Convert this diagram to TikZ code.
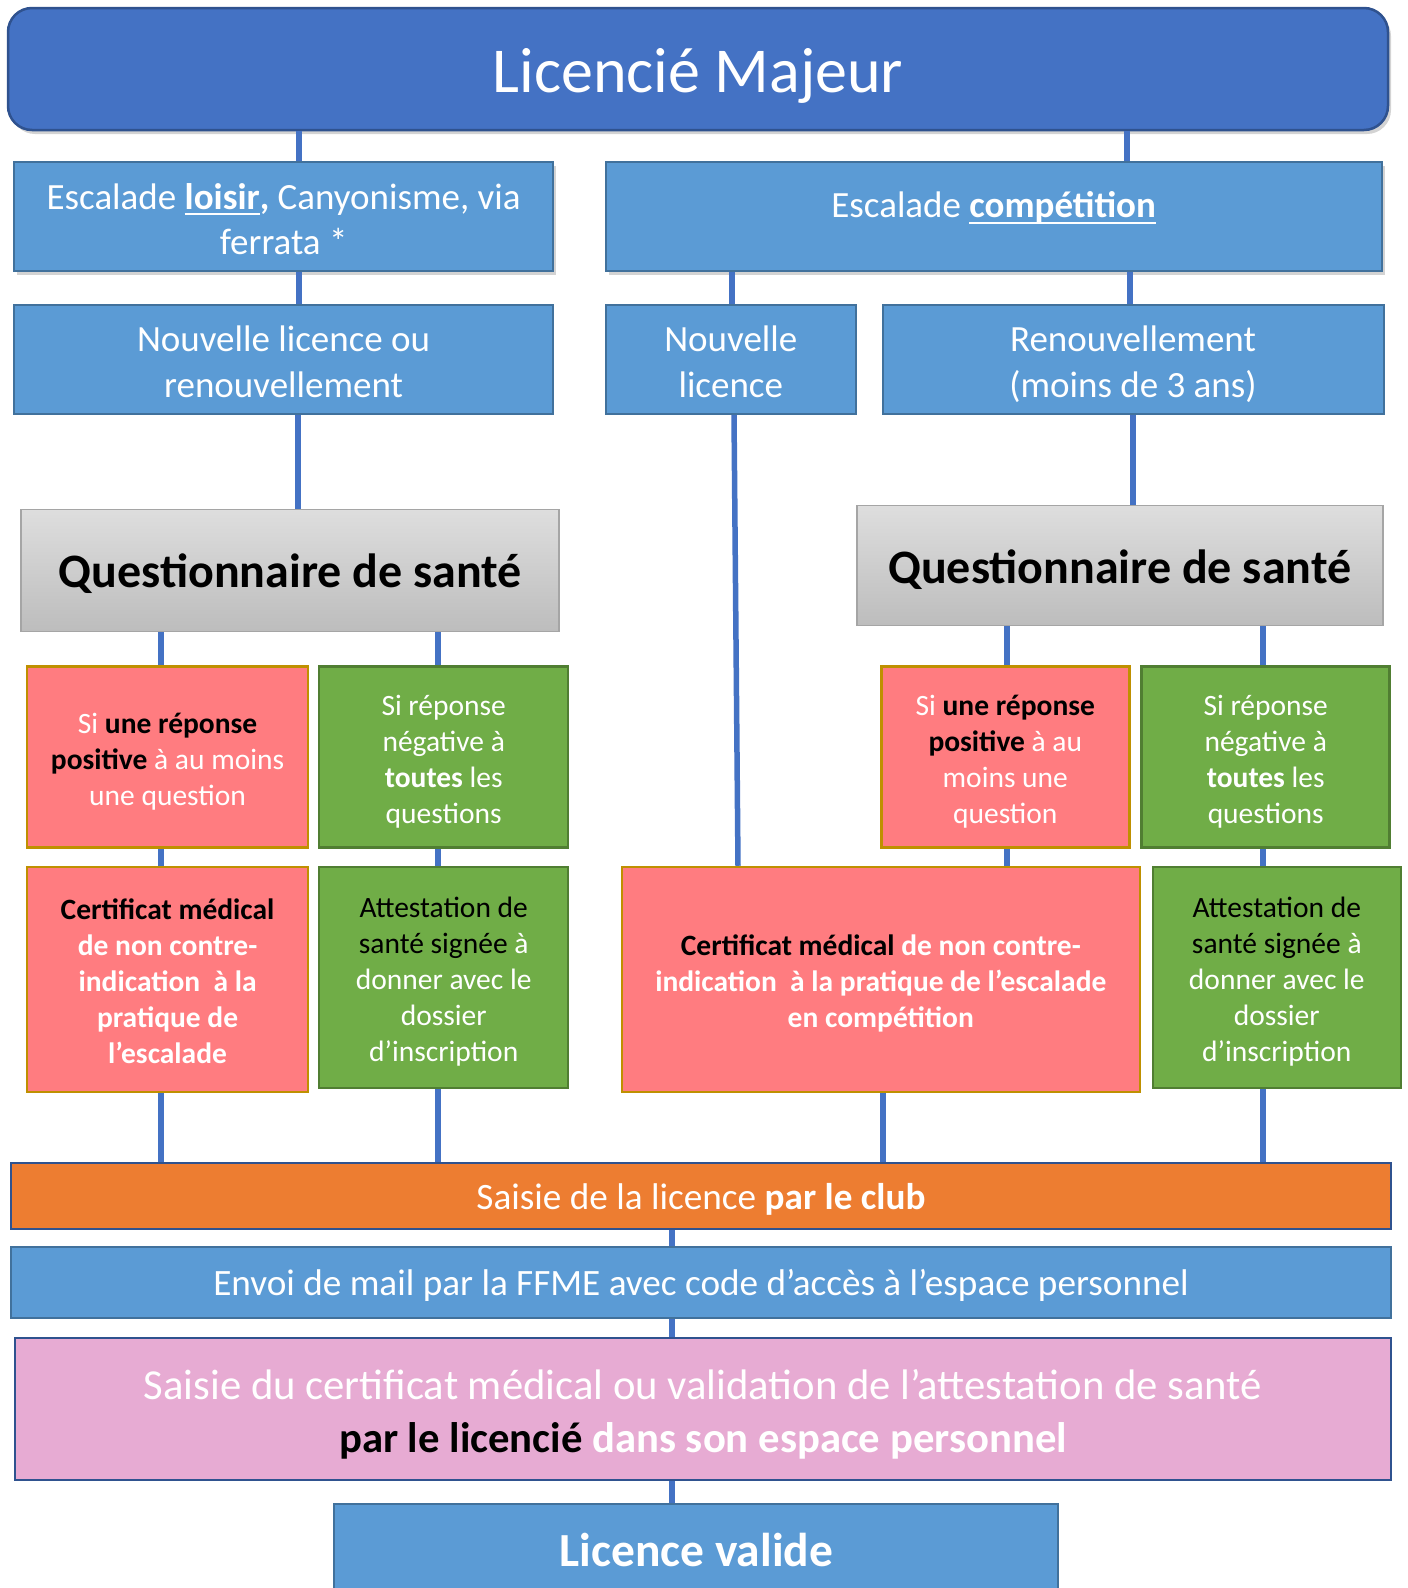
\documentclass[tikz,border=0pt]{standalone}
\usepackage{fontspec}
\setmainfont{Carlito}
\usetikzlibrary{shadows}

\definecolor{majeurblue}{HTML}{4472C4}
\definecolor{majeurline}{HTML}{2F528F}
\definecolor{boxblue}{HTML}{5B9BD5}
\definecolor{boxline}{HTML}{41719C}
\definecolor{redfill}{HTML}{FF7C80}
\definecolor{redline}{HTML}{BF9000}
\definecolor{greenfill}{HTML}{70AD47}
\definecolor{greenline}{HTML}{507E32}
\definecolor{orangefill}{HTML}{ED7D31}
\definecolor{pinkfill}{HTML}{E7ABD3}
\definecolor{grayline}{HTML}{A5A5A5}

% underline as the slide draws it
\newcommand{\souligne}[1]{\setbox0\hbox{#1}\rlap{\rule[-6pt]{\wd0}{2pt}}\box0}
\newcommand{\noir}[1]{\textcolor{black}{#1}}
% line box of the slide font
\newcommand{\ppstrut}{\rule[-0.25em]{0pt}{1.221em}}
\newcommand{\topstrut}{\rule{0pt}{1.05em}}

\tikzset{
  link/.style={draw=majeurblue, line width=5.5pt},
  boxsize/.style 2 args={minimum width=#1pt, minimum height=#2pt},
  boxbase/.style={rectangle, align=center, inner sep=0pt, text=white,
    execute at begin node=\ppstrut, execute at end node=\ppstrut},
  bluebox/.style={boxbase, draw=boxline, fill=boxblue, line width=2pt,
    font=\fontsize{37pt}{45.2pt}\selectfont},
  shade box/.style={drop shadow={shadow xshift=3pt, shadow yshift=-4pt, opacity=0.35}},
  questbox/.style={boxbase, draw=grayline, line width=1.5pt, text=black,
    top color=black!13, bottom color=black!26, font=\bfseries\fontsize{48pt}{58.6pt}\selectfont},
  redbox/.style={boxbase, draw=redline, fill=redfill, line width=2.5pt,
    font=\fontsize{29.5pt}{36pt}\selectfont},
  greenbox/.style={boxbase, draw=greenline, fill=greenfill, line width=2.5pt,
    font=\fontsize{29.5pt}{36pt}\selectfont},
  stepwide/.style={boxbase, draw=majeurline, line width=2pt,
    font=\fontsize{37.2pt}{45.4pt}\selectfont},
}

\begin{document}
\begin{tikzpicture}[x=1pt, y=-1pt]
  \useasboundingbox (0,0) rectangle (1408,1588);

  \node[boxbase, draw=majeurline, fill=majeurblue, line width=2.5pt, rounded corners=24pt,
    shade box, boxsize={1380}{122}, font=\fontsize{64pt}{78pt}\selectfont]
    (majeur) at (698,69) {Licencié Majeur};

  % loisir branch
  \node[bluebox, shade box, boxsize={539}{109}] (loisir) at (283.6,216.8)
    {\topstrut Escalade \souligne{\textbf{loisir}}\textbf{,} Canyonisme, via\\ ferrata *};
  \node[bluebox, boxsize={539}{109}] (nouvlois) at (283.6,359.6)
    {\topstrut Nouvelle licence ou\\ renouvellement};
  \node[questbox, boxsize={538}{122}] (questL) at (290.2,570.3) {Questionnaire de santé};
  \node[redbox, boxsize={281}{181}] (posL) at (167.6,757.2)
    {\topstrut Si \noir{\textbf{une réponse}}\\ \noir{\textbf{positive}} à au moins\\ une question};
  \node[greenbox, boxsize={249}{181}] (negL) at (443.7,757.2)
    {\topstrut Si réponse\\ négative à\\ \textbf{toutes} les\\ questions};
  \node[redbox, boxsize={281}{225}, font=\bfseries\fontsize{29.5pt}{36pt}\selectfont] (certL) at (167.6,979.5)
    {\topstrut\noir{Certificat médical}\\ de non contre-\\ indication~ à la\\ pratique de\\ l’escalade};
  \node[greenbox, boxsize={249}{221}] (attL) at (443.7,977.5)
    {\topstrut\noir{Attestation de}\\ \noir{santé signée} à\\ donner avec le\\ dossier\\ d’inscription};

  % competition branch
  \node[bluebox, shade box, boxsize={776}{109}, text height=24pt, text depth=22pt] (compet) at (993.7,216.8)
    {Escalade \souligne{\textbf{compétition}}};
  \node[bluebox, boxsize={250}{109}] (nouvlic) at (730.8,359.6) {\topstrut Nouvelle\\ licence};
  \node[bluebox, boxsize={501}{109}] (renouv) at (1133,359.6) {\topstrut Renouvellement\\ (moins de 3 ans)};
  \node[questbox, boxsize={526}{120}] (questR) at (1119.8,565.7) {Questionnaire de santé};
  \node[redbox, boxsize={248}{181}] (posR) at (1005.3,757.2)
    {\topstrut Si \noir{\textbf{une réponse}}\\ \noir{\textbf{positive}} à au\\ moins une\\ question};
  \node[greenbox, boxsize={248}{181}] (negR) at (1265.7,757.2)
    {\topstrut Si réponse\\ négative à\\ \textbf{toutes} les\\ questions};
  \node[redbox, boxsize={518}{225}, font=\bfseries\fontsize{29.5pt}{36pt}\selectfont] (certR) at (880.8,979.5)
    {\topstrut\noir{Certificat médical} de non contre-\\ indication~ à la pratique de l’escalade\\ en compétition};
  \node[greenbox, boxsize={248}{221}] (attR) at (1276.8,977.5)
    {\topstrut\noir{Attestation de}\\ \noir{santé signée} à\\ donner avec le\\ dossier\\ d’inscription};

  % common steps
  \node[stepwide, fill=orangefill, boxsize={1380}{66}] (club) at (701,1195.8)
    {Saisie de la licence \textbf{par le club}};
  \node[stepwide, draw=boxline, fill=boxblue, boxsize={1380}{71}] (mail) at (701,1282.4)
    {Envoi de mail par la FFME avec code d’accès à l’espace personnel};
  \node[stepwide, fill=pinkfill, boxsize={1376}{142}, font=\fontsize{42.7pt}{52.5pt}\selectfont] (espace) at (703,1409)
    {\topstrut Saisie du certificat médical ou validation de l’attestation de santé\\
     \textbf{\noir{par le licencié} dans son espace personnel}};
  \node[bluebox, boxsize={724}{96}, text height=46pt, text depth=18pt,
    font=\bfseries\fontsize{47.5pt}{58pt}\selectfont] (valide) at (696.4,1552)
    {Licence valide};

  \draw[link] (majeur.south -| 299,0) -- (loisir.north -| 299,0);
  \draw[link] (loisir.south -| 299,0) -- (nouvlois.north -| 299,0);
  \draw[link] (nouvlois.south -| 298,0) -- (questL.north -| 298,0);
  \draw[link] (questL.south -| 161,0) -- (posL.north -| 161,0);
  \draw[link] (questL.south -| 438,0) -- (negL.north -| 438,0);
  \draw[link] (posL.south -| 161,0) -- (certL.north -| 161,0);
  \draw[link] (negL.south -| 438,0) -- (attL.north -| 438,0);
  \draw[link] (certL.south -| 161,0) -- (club.north -| 161,0);
  \draw[link] (attL.south -| 438,0) -- (club.north -| 438,0);

  \draw[link] (majeur.south -| 1127,0) -- (compet.north -| 1127,0);
  \draw[link] (compet.south -| 732,0) -- (nouvlic.north -| 732,0);
  \draw[link] (compet.south -| 1130,0) -- (renouv.north -| 1130,0);
  \draw[link] (nouvlic.south -| 734,0) -- (certR.north -| 738,0);
  \draw[link] (renouv.south -| 1133,0) -- (questR.north -| 1133,0);
  \draw[link] (questR.south -| 1007,0) -- (posR.north -| 1007,0);
  \draw[link] (questR.south -| 1263,0) -- (negR.north -| 1263,0);
  \draw[link] (posR.south -| 1007,0) -- (certR.north -| 1007,0);
  \draw[link] (negR.south -| 1263,0) -- (attR.north -| 1263,0);
  \draw[link] (certR.south -| 883,0) -- (club.north -| 883,0);
  \draw[link] (attR.south -| 1263,0) -- (club.north -| 1263,0);

  \draw[link] (club.south -| 672,0) -- (mail.north -| 672,0);
  \draw[link] (mail.south -| 672,0) -- (espace.north -| 672,0);
  \draw[link] (espace.south -| 672,0) -- (valide.north -| 672,0);
\end{tikzpicture}
\end{document}
